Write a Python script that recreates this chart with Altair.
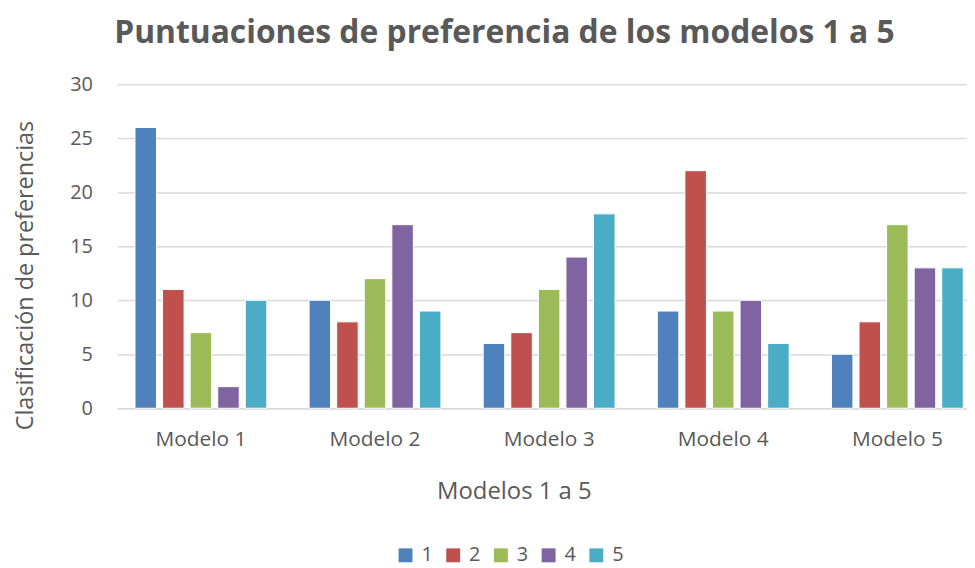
import altair as alt
import pandas as pd

modelos = ["Modelo 1", "Modelo 2", "Modelo 3", "Modelo 4", "Modelo 5"]
series = ["1", "2", "3", "4", "5"]
values = {
    "1": [26, 10, 6, 9, 5],
    "2": [11, 8, 7, 22, 8],
    "3": [7, 12, 11, 9, 17],
    "4": [2, 17, 14, 10, 13],
    "5": [10, 9, 18, 6, 13],
}
colors = ["#4F81BD", "#C0504D", "#9BBB59", "#8064A2", "#4BACC6"]
y_ticks = [0, 5, 10, 15, 20, 25, 30]

rows = []
for s in series:
    for m, v in zip(modelos, values[s]):
        rows.append({"Modelo": m, "Serie": s, "Valor": v})
df = pd.DataFrame(rows)

FONT = "Open Sans"
GRAY = "#595959"

chart = alt.Chart(df).mark_bar(stroke="white", strokeWidth=1).encode(
    x=alt.X("Modelo:N", sort=modelos,
            scale=alt.Scale(paddingInner=0.2, paddingOuter=0.04, align=1),
            axis=alt.Axis(title="Modelos 1 a 5", labelAngle=0, labelFontSize=21,
                          labelColor=GRAY, labelFont=FONT, labelPadding=20,
                          titleFontSize=24, titleColor=GRAY, titleFont=FONT,
                          titleFontWeight="normal", titlePadding=31, titleX=399,
                          ticks=False, domainColor="#d9d9d9", domainWidth=1.5)),
    xOffset=alt.XOffset("Serie:N", sort=series,
                        scale=alt.Scale(paddingInner=0.22, paddingOuter=0.135)),
    y=alt.Y("Valor:Q", scale=alt.Scale(domain=[0, 30]),
            axis=alt.Axis(title="Clasificación de preferencias", values=y_ticks,
                          labelFontSize=20, labelColor=GRAY, labelFont=FONT,
                          labelPadding=25, titleFontSize=23.5, titleColor=GRAY,
                          titleFont=FONT, titleFontWeight="normal",
                          titlePadding=32, titleY=192,
                          ticks=False, domain=False, gridColor="#d9d9d9",
                          gridWidth=1.5)),
    color=alt.Color("Serie:N", sort=series,
                    scale=alt.Scale(domain=series, range=colors),
                    legend=alt.Legend(title=None, orient="none", direction="horizontal",
                                      legendX=280, legendY=464, symbolType="square",
                                      symbolSize=196, symbolStrokeWidth=0,
                                      labelFontSize=20, labelColor=GRAY,
                                      labelFont=FONT, columnPadding=10,
                                      labelOffset=6, symbolOpacity=1)),
).properties(
    width=855,
    height=326,
    title=alt.TitleParams("Puntuaciones de preferencia de los modelos 1 a 5",
                          fontSize=32, font=FONT, fontWeight="bold", color=GRAY,
                          anchor="middle", dx=-38, offset=25),
    autosize=alt.AutoSizeParams(type="none"),
    padding={"left": 110, "top": 75, "right": 0, "bottom": 159},
).configure_view(stroke=None)

chart.save("out.html", embed_options={"renderer": "svg", "actions": False})
